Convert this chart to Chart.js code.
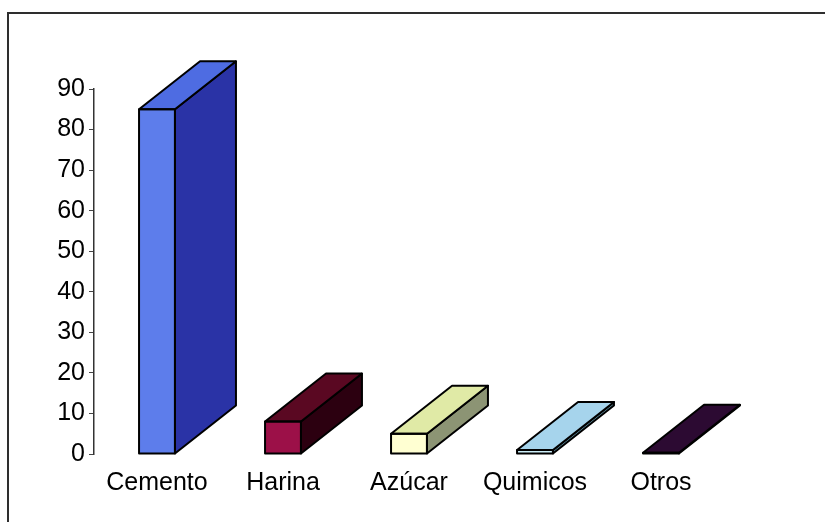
<!DOCTYPE html>
<html>
<head>
<meta charset="utf-8">
<script src="https://cdn.jsdelivr.net/npm/chart.js@4.4.1/dist/chart.umd.min.js"></script>
<style>
  html, body { margin: 0; padding: 0; background: #fff; }
  #wrap { position: relative; width: 825px; height: 522px; overflow: hidden; background: #fff; }
  #frame { position: absolute; left: 7px; top: 12px; width: 830px; height: 530px;
           border-top: 2px solid #2e2e2e; border-left: 2px solid #2e2e2e; }
  canvas { position: absolute; left: 0; top: 0; }
</style>
</head>
<body>
<div id="wrap">
  <div id="frame"></div>
  <canvas id="c" width="825" height="522"></canvas>
</div>
<script>
// ---- data ----
const categories = ["Cemento", "Harina", "Azúcar", "Quimicos", "Otros"];
const values = [85, 8, 5, 1, 0.3];
const yTicks = [0, 10, 20, 30, 40, 50, 60, 70, 80, 90];

// ---- styles ----
const frontColors = ["#5d7deb", "#9c1048", "#ffffd2", "#cdeef8", "#660066"];
const topColors   = ["#4e6ce2", "#5a0822", "#e0eaa6", "#a6d4ec", "#2c0a32"];
const sideColors  = ["#2a33a6", "#2c0010", "#8c9474", "#5f8fa0", "#1a001a"];
const DEPTH_X = 61, DEPTH_Y = -48;

const threeD = {
  id: 'threeD',
  afterDatasetsDraw(chart) {
    const ctx = chart.ctx;
    const meta = chart.getDatasetMeta(0);
    meta.data.forEach((bar, i) => {
      const p = bar.getProps(['x', 'y', 'base', 'width'], true);
      const L = p.x - p.width / 2, R = p.x + p.width / 2;
      const top = Math.min(p.y, p.base), bot = Math.max(p.y, p.base);
      ctx.save();
      ctx.lineJoin = 'round';
      ctx.lineWidth = 2;
      ctx.strokeStyle = '#000';
      // side face
      ctx.beginPath();
      ctx.moveTo(R, top);
      ctx.lineTo(R + DEPTH_X, top + DEPTH_Y);
      ctx.lineTo(R + DEPTH_X, bot + DEPTH_Y);
      ctx.lineTo(R, bot);
      ctx.closePath();
      ctx.fillStyle = sideColors[i];
      ctx.fill();
      ctx.stroke();
      // top face
      ctx.beginPath();
      ctx.moveTo(L, top);
      ctx.lineTo(R, top);
      ctx.lineTo(R + DEPTH_X, top + DEPTH_Y);
      ctx.lineTo(L + DEPTH_X, top + DEPTH_Y);
      ctx.closePath();
      ctx.fillStyle = topColors[i];
      ctx.fill();
      ctx.stroke();
      // front outline
      ctx.strokeRect(L, top, R - L, bot - top);
      ctx.restore();
    });
  }
};

const FONT = "'Liberation Sans', Arial, sans-serif";

new Chart(document.getElementById('c'), {
  type: 'bar',
  data: {
    labels: categories,
    datasets: [{
      data: values,
      backgroundColor: frontColors,
      borderColor: '#000',
      borderWidth: 0,
      borderSkipped: false,
      barPercentage: 0.285,
      categoryPercentage: 1.0
    }]
  },
  plugins: [threeD],
  options: {
    responsive: false,
    devicePixelRatio: 1,
    animation: false,
    layout: { padding: { left: 0, top: 89, right: 101, bottom: 0 } },
    plugins: { legend: { display: false }, tooltip: { enabled: false }, title: { display: false } },
    scales: {
      x: {
        grid: { display: false, drawTicks: false, tickLength: 0 },
        border: { display: false },
        ticks: { color: '#000', font: { family: FONT, size: 25 }, padding: 14, maxRotation: 0, autoSkip: false },
        afterFit(s) { s.height = 68; }
      },
      y: {
        min: 0, max: 90,
        afterBuildTicks(s) { s.ticks = yTicks.map(v => ({ value: v })); },
        grid: { drawOnChartArea: false, drawTicks: true, tickLength: 5, color: '#444', lineWidth: 1 },
        border: { display: true, color: '#333', width: 1.5 },
        ticks: { color: '#000', font: { family: FONT, size: 25 }, padding: 4 },
        afterFit(s) { s.width = 94; }
      }
    }
  }
});
</script>
</body>
</html>
